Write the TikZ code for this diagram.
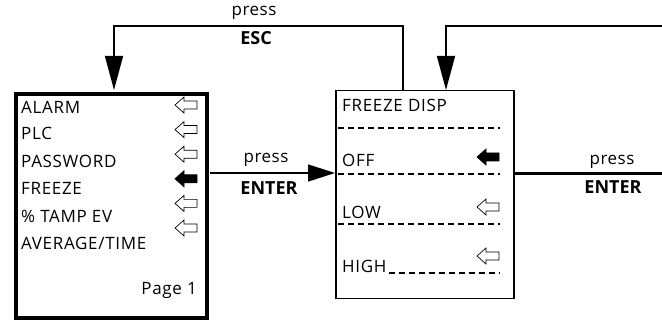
\documentclass[tikz,border=0pt]{standalone}
\usepackage{fontspec}
\setmainfont{Open Sans}
\usetikzlibrary{arrows.meta}
\tikzset{
  menutext/.style={anchor=base west, inner sep=0pt, font=\fontsize{17}{20}\selectfont\addfontfeature{LetterSpace=4}},
  presstext/.style={anchor=center, inner sep=0pt, font=\fontsize{17}{20}\selectfont\addfontfeature{LetterSpace=3}},
  keytext/.style={anchor=center, inner sep=0pt, font=\fontsize{18}{21}\selectfont\bfseries},
  flow/.style={line width=1.5pt},
  dashrule/.style={line width=1.3pt, dash pattern=on 6pt off 4pt},
  downtip/.style={-{Triangle[length=34pt, width=18pt]}},
  pics/ptr/.style={code={%
    \draw[line width=0.7pt, fill=#1] (0,0) -- (9,-8) -- (9,-4) -- (22,-4)
      -- (22,4) -- (9,4) -- (9,8) -- cycle;}},
}
\begin{document}
\begin{tikzpicture}[x=1pt, y=-1pt]
\useasboundingbox (0,0) rectangle (662,320);
% menu page 1
\node[draw, line width=4pt, anchor=north west, minimum width=191pt, minimum height=224pt] (menu) at (14,92) {};
\node[menutext] (alarm) at (21,114) {ALARM};
\node[menutext] (plc) at (21,140) {PLC};
\node[menutext] (password) at (21,168) {PASSWORD};
\node[menutext] (freeze) at (21,195) {FREEZE};
\node[menutext] (tamp) at (21,223) {\% TAMP EV};
\node[menutext] (average) at (21,250) {AVERAGE/TIME};
\node[menutext, anchor=base east] (page) at (197,295) {Page 1};
\foreach \y/\f in {105/white,129.6/white,154.2/white,178.8/black,203.4/white,228/white}
  \pic at (175,\y) {ptr=\f};
% freeze display
\node[draw, line width=1.5pt, anchor=north west, minimum width=178pt, minimum height=208pt] (disp) at (335,90) {};
\node[menutext] (title) at (342,112) {FREEZE DISP};
\node[menutext] (off) at (342,167) {OFF};
\node[menutext] (low) at (342,219) {LOW};
\node[menutext] (high) at (342,273) {HIGH};
\draw[dashrule] (338,128) -- (500,128);
\draw[dashrule] (338,174) -- (500,174);
\draw[dashrule] (338,224) -- (500,224);
\draw[dashrule] (high.base east) ++(2,0) -- (500,273);
\pic at (477,157) {ptr=black};
\pic at (477,207) {ptr=white};
\pic at (477,256) {ptr=white};
% connectors
\coordinate (escout) at (403,90);
\coordinate (menuin) at (114,90);
\coordinate (backfrom) at (662,26);
\coordinate (backin) at (446,90);
\coordinate (enterout) at (210,173);
\coordinate (nextout) at (662,174);
\draw[flow, downtip] (escout) -- ++(0,-64) -| (menuin);
\draw[flow, downtip] (backfrom) -| (backin);
\draw[flow, -{Triangle[length=27pt, width=17pt]}] (enterout) -- (enterout -| disp.west);
\draw[line width=3pt] (disp.east |- nextout) -- (nextout);
\node[presstext] (pressesc) at (254,13) {press};
\node[keytext] (esc) at (256,38) {ESC};
\node[presstext] (pressenter) at (266,160) {press};
\node[keytext] (enter) at (269,188) {ENTER};
\node[presstext] (pressnext) at (612,162) {press};
\node[keytext] (enternext) at (613,187) {ENTER};
\end{tikzpicture}
\end{document}
